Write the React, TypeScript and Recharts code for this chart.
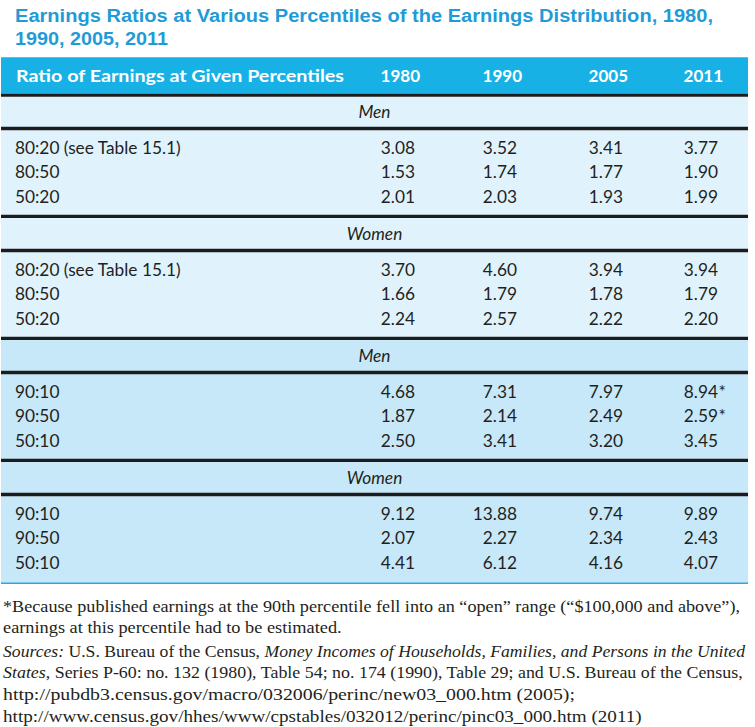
import React from 'react';
import { ComposedChart, XAxis, YAxis, Scatter, ReferenceArea, ReferenceLine } from 'recharts';

// ---------- data ----------
const titleLines = [
  'Earnings Ratios at Various Percentiles of the Earnings Distribution, 1980,',
  '1990, 2005, 2011',
];
const headerLabel = 'Ratio of Earnings at Given Percentiles';
const years = ['1980', '1990', '2005', '2011'];
const sectionTitles = ['Men', 'Women', 'Men', 'Women'];
const rowLabels8020 = ['80:20 (see Table 15.1)', '80:50', '50:20'];
const rowLabels9010 = ['90:10', '90:50', '50:10'];
const men8020 = [
  [3.08, 3.52, 3.41, 3.77],
  [1.53, 1.74, 1.77, 1.9],
  [2.01, 2.03, 1.93, 1.99],
];
const women8020 = [
  [3.7, 4.6, 3.94, 3.94],
  [1.66, 1.79, 1.78, 1.79],
  [2.24, 2.57, 2.22, 2.2],
];
const men9010 = [
  [4.68, 7.31, 7.97, 8.94],
  [1.87, 2.14, 2.49, 2.59],
  [2.5, 3.41, 3.2, 3.45],
];
const women9010 = [
  [9.12, 13.88, 9.74, 9.89],
  [2.07, 2.27, 2.34, 2.43],
  [4.41, 6.12, 4.16, 4.07],
];
const men9010Estimated = [
  [false, false, false, true],
  [false, false, false, true],
  [false, false, false, false],
];
const noEstimates = [
  [false, false, false, false],
  [false, false, false, false],
  [false, false, false, false],
];

// ---------- layout / style ----------
const W = 755;
const H = 727;
const MARGIN = { top: 57.3, right: 7, bottom: 143.7, left: 1 };
const X_DOMAIN: [number, number] = [0, 747];
const Y_DOMAIN: [number, number] = [0, 21.56];
const COL_X = [14, 414, 516, 622, 717];
const HEADER_CENTER = 0.77;
const HEADER_BOTTOM = 1.48;
const TOP_RULE = 1.55;
const STEP = 5;
const SUB_CENTER = 2.25;
const SUB_RULE = 2.92;
const ROW0 = 3.7;
const SECTION_RULE = 6.52;
const HEADER_LABEL_WIDTH = 328;

const TITLE_BLUE = '#1f9bd7';
const HEADER_CYAN = '#17b1e6';
const LIGHT_BG = '#e0f3fc';
const MID_BG = '#c7e8f9';
const RULE = '#1c1c1e';
const INK = '#231f20';
const SANS = 'Lato, "Noto Sans", sans-serif';
const SERIF = '"Liberation Serif", "DejaVu Serif", serif';

const sections = [
  { title: sectionTitles[0], labels: rowLabels8020, values: men8020, stars: noEstimates, bg: LIGHT_BG },
  { title: sectionTitles[1], labels: rowLabels8020, values: women8020, stars: noEstimates, bg: LIGHT_BG },
  { title: sectionTitles[2], labels: rowLabels9010, values: men9010, stars: men9010Estimated, bg: MID_BG },
  { title: sectionTitles[3], labels: rowLabels9010, values: women9010, stars: noEstimates, bg: MID_BG },
];

const labelColumn = sections.flatMap((s, k) =>
  s.labels.map((lab, i) => ({ x: COL_X[0], y: ROW0 + STEP * k + i, text: lab }))
);

const headerRow = [headerLabel, ...years].map((t, j) => ({ x: COL_X[j], y: HEADER_CENTER, text: t, first: j === 0 }));

const yearSeries = years.map((yr, j) => ({
  year: yr,
  data: sections.flatMap((s, k) =>
    s.values.map((row, i) => ({
      x: COL_X[j + 1],
      y: ROW0 + STEP * k + i,
      text: row[j].toFixed(2),
      star: s.stars[i][j],
    }))
  ),
}));

const HeaderCell = (props: any) => {
  const { cx, cy, payload } = props;
  const first = payload.first;
  return (
    <text
      x={first ? cx + 1 : cx + 5}
      y={cy}
      dy="0.36em"
      textAnchor={first ? 'start' : 'end'}
      fill="#ffffff"
      fontFamily={SANS}
      fontWeight={700}
      fontSize={17}
      textLength={first ? HEADER_LABEL_WIDTH : undefined}
      lengthAdjust={first ? 'spacingAndGlyphs' : undefined}
    >
      {payload.text}
    </text>
  );
};

const LabelCell = (props: any) => {
  const { cx, cy, payload } = props;
  return (
    <text x={cx} y={cy} dy="0.36em" textAnchor="start" fill={INK} fontFamily={SANS} fontSize={17.3}>
      {payload.text}
    </text>
  );
};

const ValueCell = (props: any) => {
  const { cx, cy, payload } = props;
  return (
    <g>
      <text x={cx} y={cy} dy="0.36em" textAnchor="end" fill={INK} fontFamily={SANS} fontSize={17.3}>
        {payload.text}
      </text>
      {payload.star ? (
        <text x={cx + 0.5} y={cy} dy="0.36em" textAnchor="start" fill={INK} fontFamily={SANS} fontSize={17.3}>
          *
        </text>
      ) : null}
    </g>
  );
};

export default function App() {
  return (
    <div style={{ position: 'absolute', left: 0, top: 0, width: W, height: H, background: '#ffffff' }}>
      <div style={{ position: 'absolute', left: 0, top: 0 }}>
        <ComposedChart width={W} height={H} margin={MARGIN}>
          <XAxis type="number" dataKey="x" domain={X_DOMAIN} allowDataOverflow hide />
          <YAxis type="number" dataKey="y" domain={Y_DOMAIN} allowDataOverflow reversed hide />
          <ReferenceArea y1={0} y2={HEADER_BOTTOM} fill={HEADER_CYAN} fillOpacity={1} stroke="none" />
          {sections.map((s, k) => (
            <ReferenceArea
              key={'bg' + k}
              y1={k === 0 ? HEADER_BOTTOM : SECTION_RULE + STEP * (k - 1)}
              y2={k === 3 ? Y_DOMAIN[1] : SECTION_RULE + STEP * k}
              fill={s.bg}
              fillOpacity={1}
              stroke="none"
            />
          ))}
          <ReferenceLine y={TOP_RULE} stroke={RULE} strokeWidth={3.4} />
          {sections.map((s, k) => (
            <ReferenceLine
              key={'sub' + k}
              y={SUB_CENTER + STEP * k}
              stroke="none"
              label={{ value: s.title, position: 'center', fill: INK, fontFamily: SANS, fontSize: 17.3, fontStyle: 'italic' }}
            />
          ))}
          {sections.map((s, k) => (
            <ReferenceLine key={'r1' + k} y={SUB_RULE + STEP * k} stroke={RULE} strokeWidth={3.4} />
          ))}
          {sections.slice(0, 3).map((s, k) => (
            <ReferenceLine key={'r2' + k} y={SECTION_RULE + STEP * k} stroke={RULE} strokeWidth={3.4} />
          ))}
          <ReferenceLine y={Y_DOMAIN[1]} stroke="#2aa8e0" strokeWidth={1.6} />
          <Scatter name="header" data={headerRow} isAnimationActive={false} shape={HeaderCell} />
          <Scatter name="ratio" data={labelColumn} isAnimationActive={false} shape={LabelCell} />
          {yearSeries.map((ser) => (
            <Scatter key={ser.year} name={ser.year} data={ser.data} isAnimationActive={false} shape={ValueCell} />
          ))}
        </ComposedChart>
      </div>
      <svg width={W} height={H} style={{ position: 'absolute', left: 0, top: 0, pointerEvents: 'none' }}>
        <text x={15} y={21.7} fill={TITLE_BLUE} fontFamily='"Liberation Sans", Arial, sans-serif' fontWeight={700} fontSize={18} textLength={698} lengthAdjust="spacingAndGlyphs">
          {titleLines[0]}
        </text>
        <text x={15} y={45} fill={TITLE_BLUE} fontFamily='"Liberation Sans", Arial, sans-serif' fontWeight={700} fontSize={18} textLength={153} lengthAdjust="spacingAndGlyphs">
          {titleLines[1]}
        </text>
        <g fill={INK} fontFamily={SERIF} fontSize={16.5}>
          <text x={3} y={611.5} textLength={737} lengthAdjust="spacingAndGlyphs">
            *Because published earnings at the 90th percentile fell into an “open” range (“$100,000 and above”),
          </text>
          <text x={3} y={633} textLength={338.7} lengthAdjust="spacingAndGlyphs">
            earnings at this percentile had to be estimated.
          </text>
          <text x={3} y={656.5} textLength={742} lengthAdjust="spacingAndGlyphs">
            <tspan fontStyle="italic">Sources:</tspan>
            {' U.S. Bureau of the Census, '}
            <tspan fontStyle="italic">Money Incomes of Households, Families, and Persons in the United</tspan>
          </text>
          <text x={3} y={677.5} textLength={739.7} lengthAdjust="spacingAndGlyphs">
            <tspan fontStyle="italic">States</tspan>
            {', Series P-60: no. 132 (1980), Table 54; no. 174 (1990), Table 29; and U.S. Bureau of the Census,'}
          </text>
          <text x={3} y={700} textLength={572} lengthAdjust="spacingAndGlyphs">
            http://pubdb3.census.gov/macro/032006/perinc/new03_000.htm (2005);
          </text>
          <text x={3} y={721.5} textLength={638.7} lengthAdjust="spacingAndGlyphs">
            http://www.census.gov/hhes/www/cpstables/032012/perinc/pinc03_000.htm (2011)
          </text>
        </g>
      </svg>
    </div>
  );
}
